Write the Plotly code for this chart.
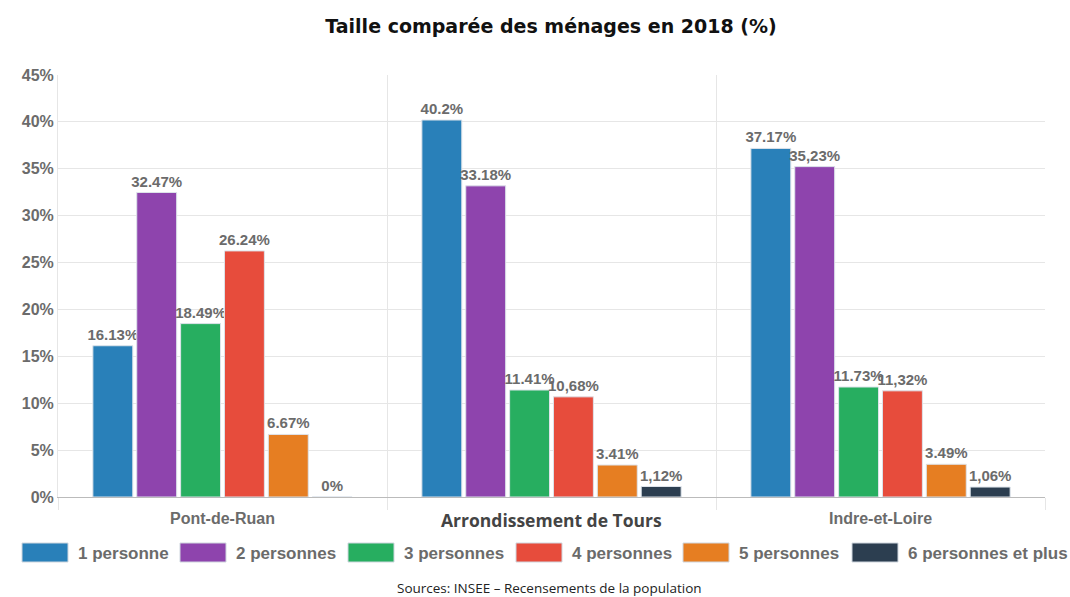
import plotly.graph_objects as go

zones = ['Pont-de-Ruan', 'Arrondissement de Tours', 'Indre-et-Loire']
series = ['1 personne', '2 personnes', '3 personnes', '4 personnes',
          '5 personnes', '6 personnes et plus']
colors = ['#2980b9', '#8e44ad', '#27ae60', '#e74c3c', '#e67e22', '#2c3e50']

# values per household size, one value per zone
v1 = [16.13, 40.2, 37.17]
v2 = [32.47, 33.18, 35.23]
v3 = [18.49, 11.41, 11.73]
v4 = [26.24, 10.68, 11.32]
v5 = [6.67, 3.41, 3.49]
v6 = [0, 1.12, 1.06]

# labels as printed on the original (mixed decimal separators)
t1 = ['16.13%', '40.2%', '37.17%']
t2 = ['32.47%', '33.18%', '35,23%']
t3 = ['18.49%', '11.41%', '11.73%']
t4 = ['26.24%', '10,68%', '11,32%']
t5 = ['6.67%', '3.41%', '3.49%']
t6 = ['0%', '1,12%', '1,06%']

values = [v1, v2, v3, v4, v5, v6]
labels = [t1, t2, t3, t4, t5, t6]

W, H = 1070, 597
L, R, T, B = 58, 25, 75, 100
pw, ph = W - L - R, H - T - B


def px(x):
    return (x - L) / pw


def py(y):
    return (H - B - y) / ph


GRAY = '#6b6b6b'
bold = dict(family='Liberation Sans', size=16, color=GRAY, weight='bold')

fig = go.Figure()
for name, vals, txt, col in zip(series, values, labels, colors):
    fig.add_trace(go.Bar(
        x=zones, y=vals, name=name, text=txt,
        textposition='outside', constraintext='none', cliponaxis=False,
        textfont=dict(bold, size=15),
        marker=dict(color=col, line=dict(color='#dde3ea', width=1)),
        hoverinfo='skip', showlegend=False
    ))

fig.update_layout(
    width=W, height=H,
    margin=dict(l=L, r=R, t=T, b=B, autoexpand=False),
    plot_bgcolor='white', paper_bgcolor='white',
    barmode='group', bargap=0.2, bargroupgap=0.09,
    title=dict(text='<b>Taille comparée des ménages en 2018 (%)</b>',
               x=551 / W, xanchor='center', y=1 - 26 / H, yanchor='middle',
               font=dict(family='DejaVu Sans', size=19, color='#111111')),
    font=dict(family='Liberation Sans', color=GRAY),
    showlegend=False,
)

fig.update_xaxes(
    tickvals=zones, ticktext=['Pont-de-Ruan', ' ', 'Indre-et-Loire'],
    tickson='boundaries', showgrid=True, gridcolor='#e6e6e6',
    ticks='outside', ticklen=12, tickcolor='#e6e6e6', ticklabelstandoff=7,
    showline=True, linecolor='#bbbbbb',
    tickfont=bold
)
fig.update_yaxes(
    range=[0, 45], dtick=5, ticksuffix='%', gridcolor='#e6e6e6',
    zeroline=False, showline=True, linecolor='#e6e6e6',
    tickfont=bold
)

fig.add_annotation(
    text='<b>Arrondissement de Tours</b>', x=zones[1], xref='x',
    y=py(520), yref='paper', yanchor='middle', showarrow=False,
    font=dict(family='Open Sans', size=17.5, color='#444444')
)

# custom legend with wide swatches
legfont = dict(bold, size=17)
sw_left = [22, 180, 348, 516, 683, 852]
for name, col, x0 in zip(series, colors, sw_left):
    fig.add_shape(type='rect', xref='paper', yref='paper',
                  x0=px(x0), x1=px(x0 + 46), y0=py(562), y1=py(543),
                  fillcolor=col, line=dict(color='#cfd6de', width=1))
    fig.add_annotation(text=name, xref='paper', yref='paper',
                       x=px(x0 + 54), xanchor='left', y=py(553), yanchor='middle',
                       showarrow=False, font=legfont)

fig.add_annotation(
    text='Sources: INSEE – Recensements de la population',
    x=px(549), xref='paper', xanchor='center', y=py(588), yref='paper',
    yanchor='middle', showarrow=False,
    font=dict(family='Open Sans', size=13.5, color='#222222')
)

fig.write_html('out.html', config={'displayModeBar': False},
               post_script="document.body.style.margin='0';")
